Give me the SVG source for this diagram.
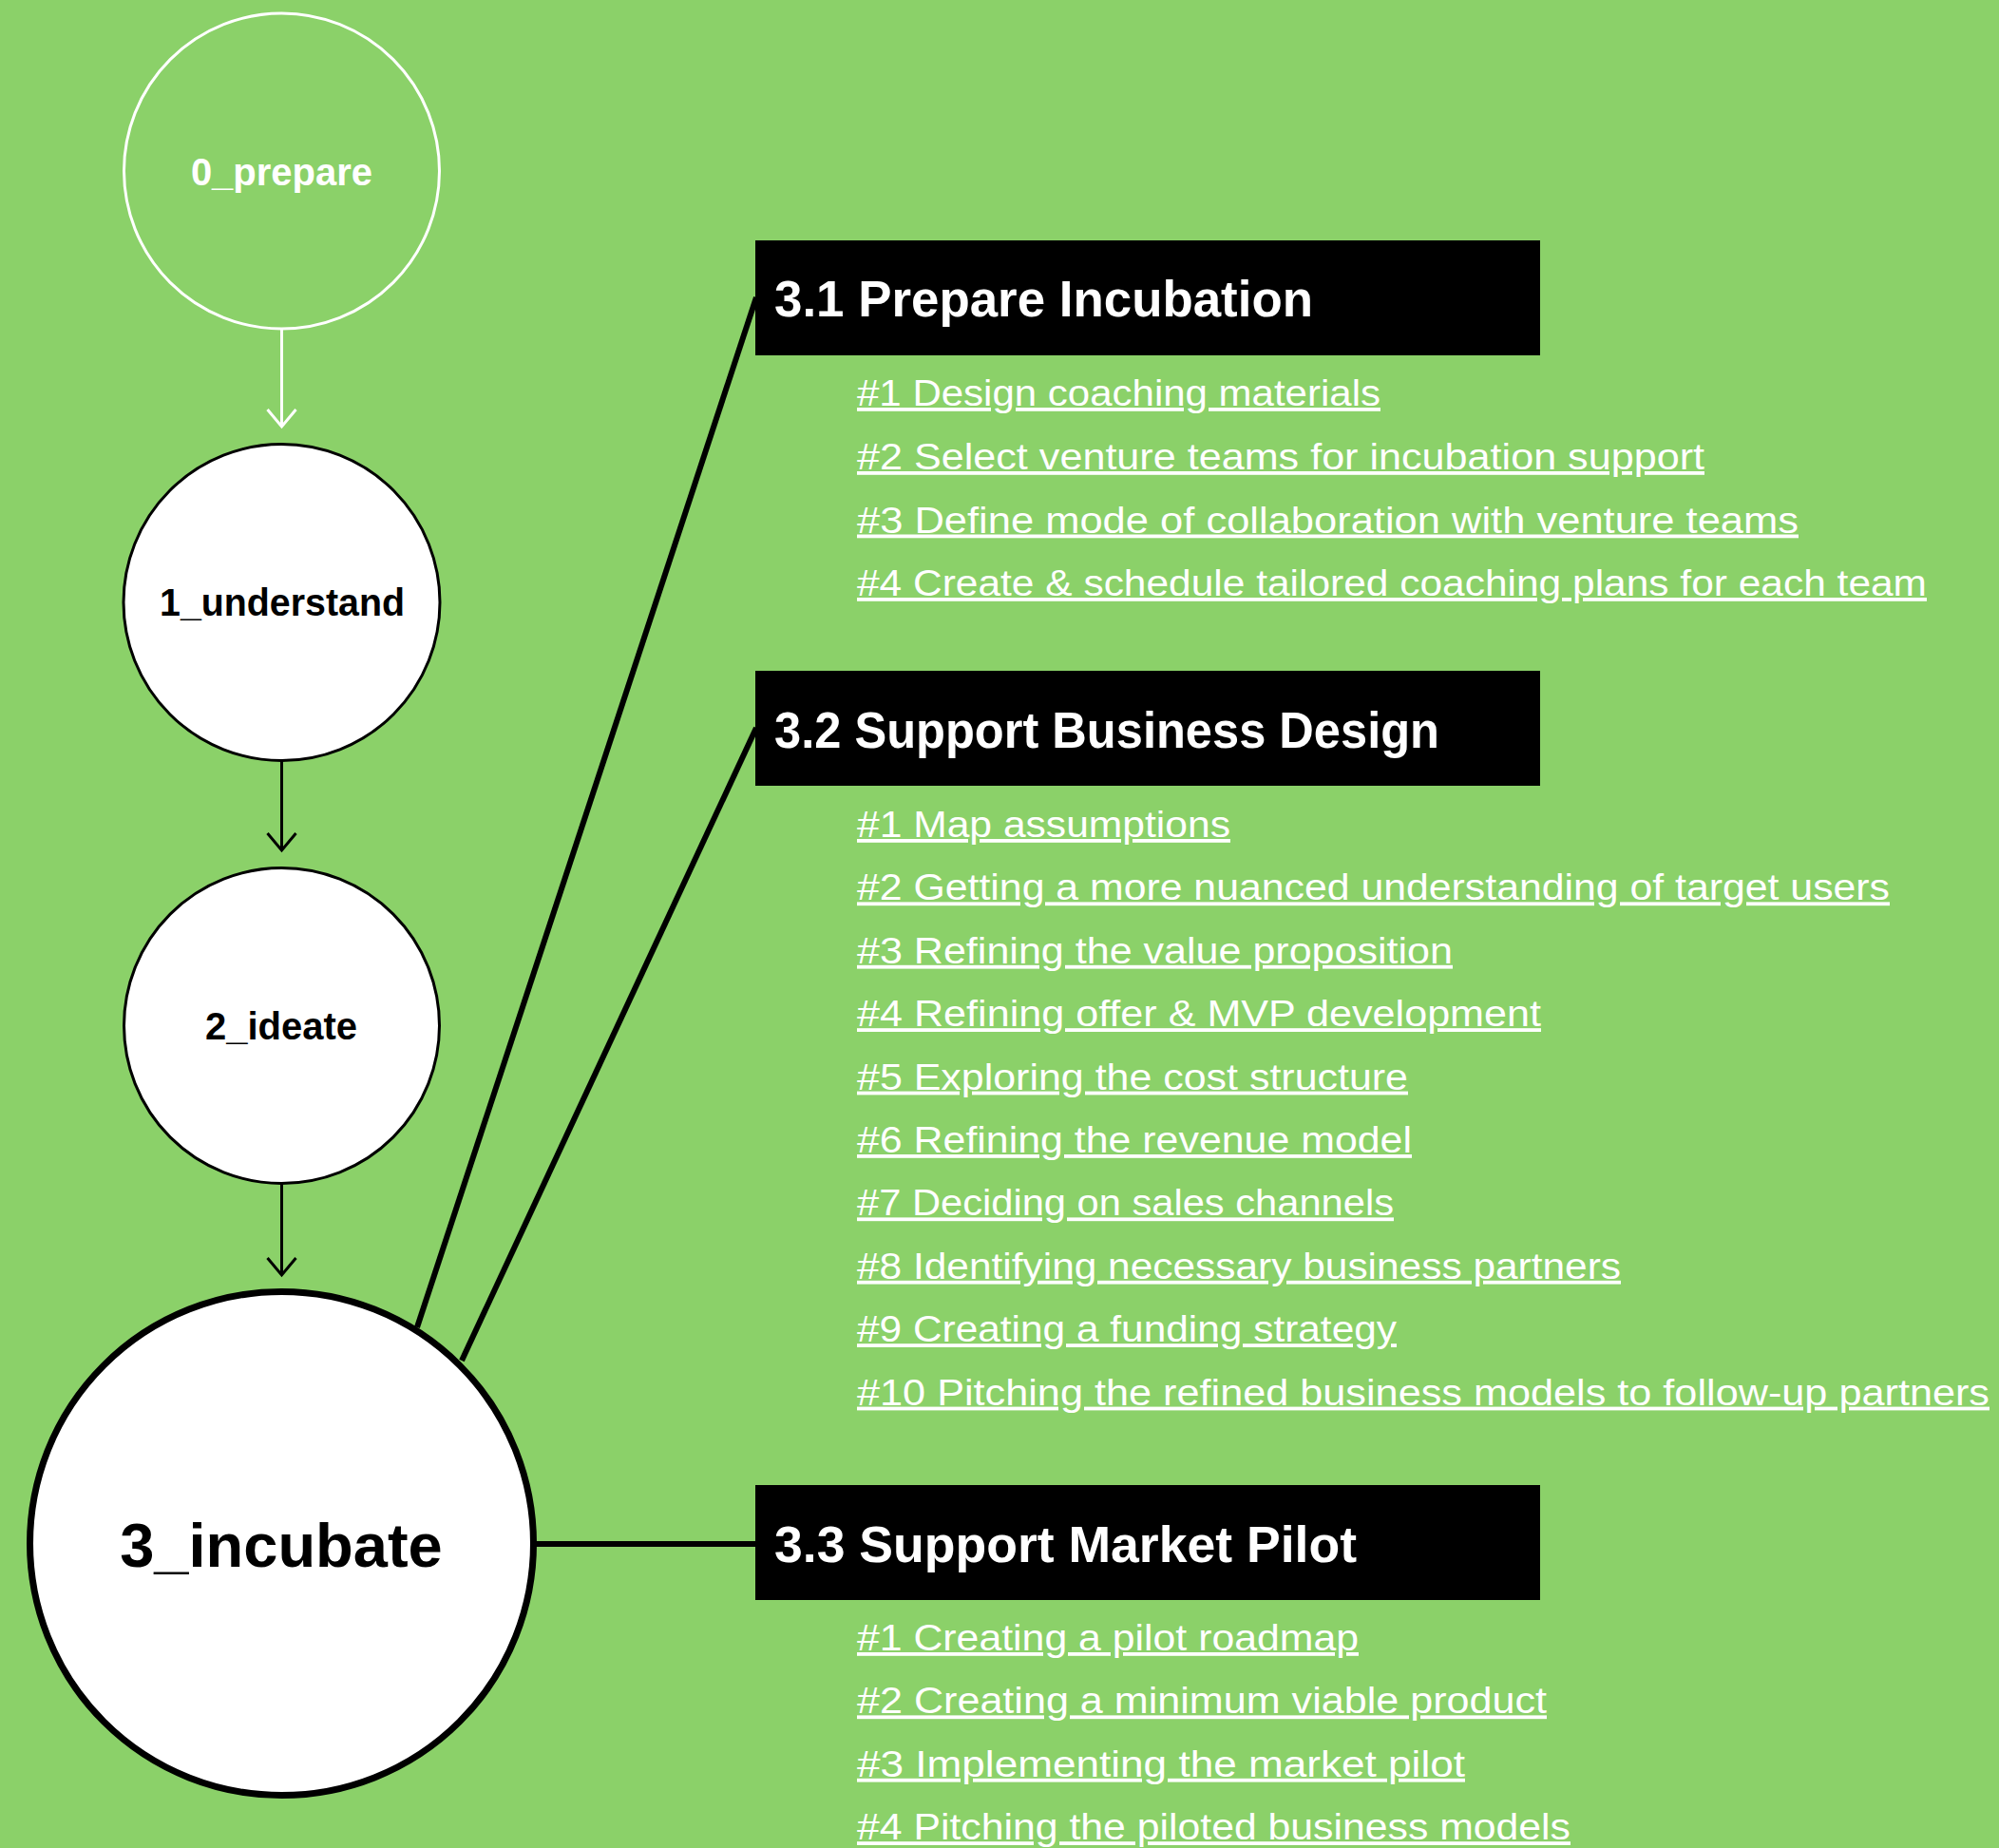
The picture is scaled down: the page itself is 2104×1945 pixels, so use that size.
<svg xmlns="http://www.w3.org/2000/svg" width="2104" height="1945" viewBox="0 0 2104 1945">
<style>
.bg{fill:#8BD169}
.node{fill:#fff;stroke:#000;stroke-width:3}
.node0{fill:none;stroke:#fff;stroke-width:3}
.big{fill:#fff;stroke:#000;stroke-width:7}
.lbl{font-family:"Liberation Sans",Arial,sans-serif;font-weight:bold;font-size:40px;text-anchor:middle}
.hdr{fill:#000}
.hdrt{font-family:"Liberation Sans",Arial,sans-serif;font-weight:bold;font-size:53px;fill:#fff}
.item{font-family:"Liberation Sans",Arial,sans-serif;font-size:38px;fill:#fff;text-decoration:underline}
.arr{stroke-width:3;fill:none}
.link{stroke:#000;stroke-width:6;fill:none}
</style>
<defs>
<marker id="chevW" markerUnits="userSpaceOnUse" orient="auto" refX="0" refY="0" markerWidth="40" markerHeight="40" overflow="visible">
<path d="M-18,-15 L0,0 L-18,15" fill="none" stroke="#fff" stroke-width="3"/>
</marker>
<marker id="chevB" markerUnits="userSpaceOnUse" orient="auto" refX="0" refY="0" markerWidth="40" markerHeight="40" overflow="visible">
<path d="M-18,-15 L0,0 L-18,15" fill="none" stroke="#000" stroke-width="3"/>
</marker>
</defs>
<rect class="bg" x="0" y="0" width="2104" height="1945"/>
<g id="connectors">
<line class="arr" x1="296.5" y1="346" x2="296.5" y2="449" stroke="#fff" marker-end="url(#chevW)"/>
<line class="arr" x1="296.5" y1="801" x2="296.5" y2="895" stroke="#000" marker-end="url(#chevB)"/>
<line class="arr" x1="296.5" y1="1246" x2="296.5" y2="1342" stroke="#000" marker-end="url(#chevB)"/>
<line class="link" x1="439" y1="1397" x2="796" y2="313"/>
<line class="link" x1="486" y1="1432" x2="796" y2="766"/>
<line class="link" x1="561" y1="1625" x2="796" y2="1625"/>
</g>
<g id="n0_prepare">
<circle class="node0" cx="296.5" cy="180" r="166"/>
<text class="lbl" x="296.5" y="195" fill="#fff">0_prepare</text>
</g>
<g id="n1_understand">
<circle class="node" cx="296.5" cy="634" r="166.5"/>
<text class="lbl" x="297" y="648" fill="#000" textLength="258" lengthAdjust="spacingAndGlyphs">1_understand</text>
</g>
<g id="n2_ideate">
<circle class="node" cx="296.5" cy="1079.5" r="166"/>
<text class="lbl" x="296" y="1094" fill="#000">2_ideate</text>
</g>
<g id="n3_incubate">
<circle class="big" cx="296.5" cy="1624.5" r="265"/>
<text class="lbl" x="296" y="1649" fill="#000" style="font-size:65px">3_incubate</text>
</g>
<g id="s3_1">
<rect class="hdr" x="795" y="253" width="826" height="121"/>
<text class="hdrt" x="815" y="333" textLength="567" lengthAdjust="spacingAndGlyphs">3.1 Prepare Incubation</text>
<text class="item" x="902" y="427" textLength="551" lengthAdjust="spacingAndGlyphs">#1 Design coaching materials</text>
<text class="item" x="902" y="494" textLength="892" lengthAdjust="spacingAndGlyphs">#2 Select venture teams for incubation support</text>
<text class="item" x="902" y="560.5" textLength="991" lengthAdjust="spacingAndGlyphs">#3 Define mode of collaboration with venture teams</text>
<text class="item" x="902" y="627" textLength="1126" lengthAdjust="spacingAndGlyphs">#4 Create &amp; schedule tailored coaching plans for each team</text>
</g>
<g id="s3_2">
<rect class="hdr" x="795" y="706" width="826" height="121"/>
<text class="hdrt" x="815" y="787" textLength="700" lengthAdjust="spacingAndGlyphs">3.2 Support Business Design</text>
<text class="item" x="902" y="881" textLength="393" lengthAdjust="spacingAndGlyphs">#1 Map assumptions</text>
<text class="item" x="902" y="947.4" textLength="1087" lengthAdjust="spacingAndGlyphs">#2 Getting a more nuanced understanding of target users</text>
<text class="item" x="902" y="1013.8" textLength="627" lengthAdjust="spacingAndGlyphs">#3 Refining the value proposition</text>
<text class="item" x="902" y="1080.2" textLength="720" lengthAdjust="spacingAndGlyphs">#4 Refining offer &amp; MVP development</text>
<text class="item" x="902" y="1146.6" textLength="580" lengthAdjust="spacingAndGlyphs">#5 Exploring the cost structure</text>
<text class="item" x="902" y="1213" textLength="584" lengthAdjust="spacingAndGlyphs">#6 Refining the revenue model</text>
<text class="item" x="902" y="1279.4" textLength="565" lengthAdjust="spacingAndGlyphs">#7 Deciding on sales channels</text>
<text class="item" x="902" y="1345.8" textLength="804" lengthAdjust="spacingAndGlyphs">#8 Identifying necessary business partners</text>
<text class="item" x="902" y="1412.2" textLength="568" lengthAdjust="spacingAndGlyphs">#9 Creating a funding strategy</text>
<text class="item" x="902" y="1478.6" textLength="1192" lengthAdjust="spacingAndGlyphs">#10 Pitching the refined business models to follow-up partners</text>
</g>
<g id="s3_3">
<rect class="hdr" x="795" y="1563" width="826" height="121"/>
<text class="hdrt" x="815" y="1644" textLength="613" lengthAdjust="spacingAndGlyphs">3.3 Support Market Pilot</text>
<text class="item" x="902" y="1737" textLength="528" lengthAdjust="spacingAndGlyphs">#1 Creating a pilot roadmap</text>
<text class="item" x="902" y="1803.4" textLength="726" lengthAdjust="spacingAndGlyphs">#2 Creating a minimum viable product</text>
<text class="item" x="902" y="1869.8" textLength="640" lengthAdjust="spacingAndGlyphs">#3 Implementing the market pilot</text>
<text class="item" x="902" y="1936.2" textLength="751" lengthAdjust="spacingAndGlyphs">#4 Pitching the piloted business models</text>
</g>
</svg>
